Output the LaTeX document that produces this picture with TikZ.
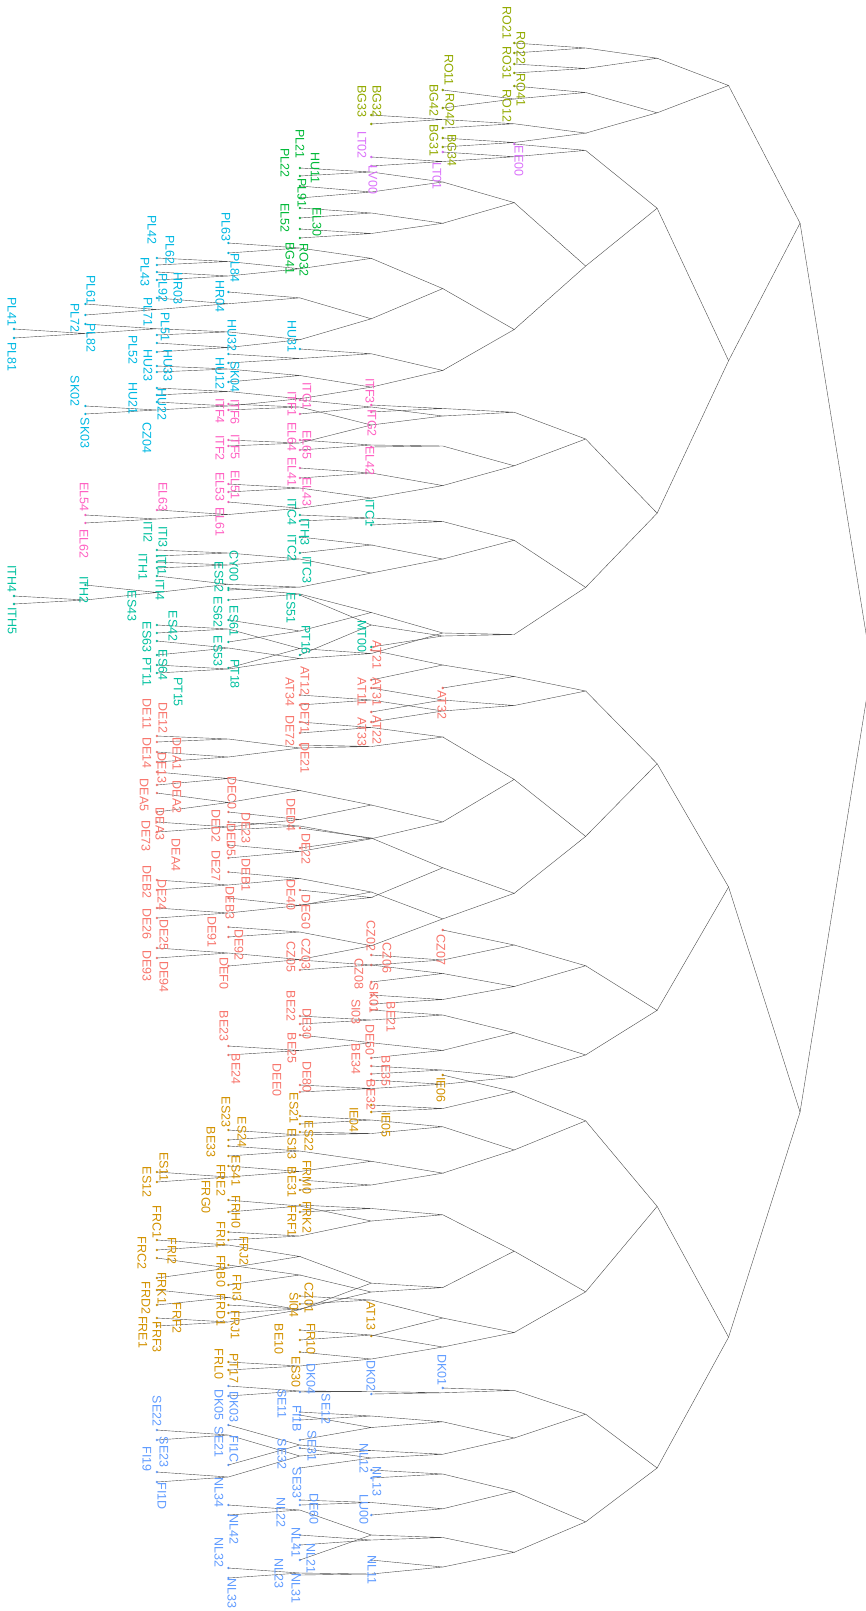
\documentclass[tikz,border=0pt]{standalone}
\usepackage{fontspec}
\setmainfont{Liberation Sans}
\definecolor{ol}{HTML}{93AA00}
\definecolor{vi}{HTML}{DB72FB}
\definecolor{gr}{HTML}{00BA38}
\definecolor{cy}{HTML}{00B9E3}
\definecolor{pk}{HTML}{FF61C3}
\definecolor{te}{HTML}{00C19F}
\definecolor{sa}{HTML}{F8766D}
\definecolor{go}{HTML}{D39200}
\definecolor{bl}{HTML}{619CFF}
\newcount\stkp
\newcount\nodeid
\def\stkset#1#2#3#4{%
  \expandafter\xdef\csname sd#1\endcsname{#2}%
  \expandafter\xdef\csname sy#1\endcsname{#3}%
  \expandafter\xdef\csname sn#1\endcsname{#4}}
\def\topd{\csname sd\the\stkp\endcsname}
\def\secd{\csname sd\the\numexpr\stkp-1\relax\endcsname}
\def\mergetop{%
  \edef\tia{\the\numexpr\stkp-1\relax}%
  \edef\tib{\the\stkp}%
  \edef\tka{\csname sn\tia\endcsname}%
  \edef\tkb{\csname sn\tib\endcsname}%
  \edef\tya{\csname sy\tia\endcsname}%
  \edef\tyb{\csname sy\tib\endcsname}%
  \edef\tdd{\the\numexpr\csname sd\tib\endcsname-1\relax}%
  \pgfmathsetmacro\tym{(\tya+\tyb)/2}%
  \global\advance\nodeid by 1
  \edef\tnn{n\the\nodeid}%
  \coordinate (\tnn) at ({871.5-71.46*\tdd},\tym);
  \draw[treeln] (\tka) -- (\tnn) -- (\tkb);
  \global\advance\stkp by -1
  \stkset{\the\stkp}{\tdd}{\tym}{\tnn}}
\def\promotetop{%
  \edef\tdd{\the\numexpr\topd-1\relax}%
  \edef\tyy{\csname sy\the\stkp\endcsname}%
  \edef\tnm{\csname sn\the\stkp\endcsname}%
  \stkset{\the\stkp}{\tdd}{\tyy}{\tnm}}
\def\cascade{%
  \let\mynext\relax
  \ifnum\stkp>1
    \ifnum\topd=\secd\relax \def\mynext{\mergetop\cascade}\fi
  \fi
  \mynext}
\def\reduceto#1{%
  \let\mynext\relax
  \ifnum\stkp>0
    \ifnum\topd>#1\relax \def\mynext{\promotetop\cascade\reduceto{#1}}\fi
  \fi
  \mynext}
\def\finish{%
  \let\mynext\relax
  \ifnum\stkp>1 \def\mynext{\promotetop\cascade\finish}\fi
  \mynext}
\def\lf#1#2#3{%
  \global\advance\nodeid by 1
  \edef\leafname{v\the\nodeid}%
  \coordinate (\leafname) at ({871.5-71.46*#1},#2);
  \fill[fill=#3] (\leafname) circle[radius=1.3pt];
  \reduceto{#1}%
  \global\advance\stkp by 1
  \stkset{\the\stkp}{#1}{#2}{\leafname}%
  \cascade}
\def\lbl#1#2#3#4{\node[lab,text=#4] (t#1) at (#2,#3) {#1};}
\begin{document}
\begin{tikzpicture}[x=1pt,y=-1pt,
  treeln/.style={draw=black!70,line width=0.4pt},
  lab/.style={rotate=-90,inner sep=0pt,font=\fontsize{12.5}{15}\selectfont}]
\fill[white] (0,0) rectangle (866,1611);
\useasboundingbox (0,0) rectangle (866,1611);
\clip (0,0) rectangle (866,1611);
% a
\lf{5}{43}{ol}\lf{5}{53}{ol}\lf{5}{64}{ol}\lf{5}{73}{ol}
% b
\lf{5}{86}{ol}\lf{6}{90}{ol}\lf{6}{108}{ol}\lf{7}{115}{ol}\lf{7}{124}{ol}\lf{6}{128}{ol}\lf{6}{138}{ol}\lf{6}{147}{ol}
% c1
\lf{5}{144}{vi}\lf{6}{152}{vi}\lf{7}{157}{vi}\lf{7}{166}{vi}
% c2a
\lf{8}{168}{gr}\lf{8}{176}{gr}\lf{8}{186}{gr}\lf{8}{198}{gr}\lf{8}{208}{gr}\lf{8}{218}{gr}\lf{8}{229}{gr}\lf{8}{238}{gr}
% c2b
\lf{9}{243}{cy}\lf{9}{253}{cy}\lf{10}{258}{cy}\lf{10}{265}{cy}\lf{10}{272}{cy}\lf{10}{280}{cy}\lf{9}{292}{cy}\lf{10}{298}{cy}
\lf{11}{304}{cy}\lf{11}{315}{cy}\lf{11}{324}{cy}\lf{12}{329}{cy}\lf{12}{338}{cy}\lf{10}{335}{cy}\lf{10}{343}{cy}\lf{10}{352}{cy}
\lf{8}{349}{cy}\lf{9}{354}{cy}\lf{9}{363}{cy}\lf{10}{366}{cy}\lf{10}{372}{cy}\lf{9}{382}{cy}\lf{10}{388}{cy}\lf{10}{395}{cy}
\lf{10}{402}{cy}\lf{11}{406}{cy}\lf{11}{414}{cy}
% d1a
\lf{7}{405}{pk}\lf{7}{412}{pk}\lf{8}{400}{pk}\lf{8}{414}{pk}\lf{9}{404}{pk}\lf{9}{410}{pk}\lf{9}{440}{pk}\lf{9}{446}{pk}
% d1b
\lf{7}{447}{pk}\lf{8}{440}{pk}\lf{8}{450}{pk}\lf{8}{468}{pk}\lf{8}{478}{pk}\lf{9}{484}{pk}\lf{9}{492}{pk}\lf{9}{502}{pk}
\lf{10}{510}{pk}\lf{11}{515}{pk}\lf{11}{523}{pk}
% d2a
\lf{7}{525}{te}\lf{8}{515}{te}\lf{8}{521}{te}\lf{8}{537}{te}\lf{8}{553}{te}\lf{10}{550}{te}\lf{10}{556}{te}\lf{10}{562}{te}
\lf{10}{568}{te}\lf{10}{576}{te}\lf{11}{585}{te}\lf{12}{596}{te}\lf{12}{604}{te}\lf{9}{590}{te}
% d2b
\lf{9}{588}{te}\lf{9}{600}{te}\lf{9}{620}{te}\lf{9}{642}{te}\lf{9}{668}{te}\lf{10}{625}{te}\lf{10}{633}{te}\lf{10}{641}{te}
\lf{10}{655}{te}\lf{10}{665}{te}\lf{10}{673}{te}\lf{7}{647}{te}\lf{8}{595}{te}\lf{8}{655}{te}
% e1
\lf{7}{650}{sa}\lf{7}{680}{sa}\lf{6}{688}{sa}\lf{7}{688}{sa}\lf{7}{712}{sa}\lf{7}{722}{sa}\lf{8}{695}{sa}\lf{8}{705}{sa}
% e2a
\lf{8}{722}{sa}\lf{8}{733}{sa}\lf{8}{745}{sa}\lf{10}{736}{sa}\lf{10}{742}{sa}\lf{10}{752}{sa}\lf{10}{762}{sa}\lf{10}{772}{sa}
\lf{10}{785}{sa}\lf{10}{793}{sa}\lf{10}{812}{sa}\lf{10}{822}{sa}\lf{10}{832}{sa}\lf{9}{812}{sa}\lf{9}{822}{sa}\lf{9}{830}{sa}
\lf{9}{845}{sa}\lf{9}{858}{sa}
% e2b
\lf{8}{828}{sa}\lf{8}{848}{sa}\lf{8}{890}{sa}\lf{8}{905}{sa}\lf{9}{872}{sa}\lf{10}{880}{sa}\lf{10}{890}{sa}\lf{9}{898}{sa}
\lf{10}{908}{sa}\lf{10}{918}{sa}\lf{9}{927}{sa}\lf{9}{937}{sa}\lf{10}{948}{sa}\lf{10}{958}{sa}\lf{9}{966}{sa}
% f1
\lf{6}{930}{sa}\lf{7}{955}{sa}\lf{7}{965}{sa}
\lf{8}{960}{sa}\lf{8}{970}{sa}\lf{7}{982}{sa}\lf{7}{995}{sa}\lf{7}{1004}{sa}
% f2
\lf{7}{1010}{sa}\lf{8}{1016}{sa}\lf{8}{1024}{sa}\lf{8}{1035}{sa}\lf{9}{1046}{sa}\lf{9}{1055}{sa}\lf{7}{1058}{sa}
\lf{7}{1066}{sa}\lf{7}{1074}{sa}\lf{7}{1080}{sa}\lf{8}{1085}{sa}\lf{8}{1092}{sa}
% g1
\lf{6}{1075}{go}\lf{7}{1105}{go}\lf{7}{1112}{go}
\lf{8}{1116}{go}\lf{8}{1124}{go}\lf{8}{1132}{go}\lf{9}{1130}{go}\lf{9}{1140}{go}\lf{9}{1146}{go}\lf{9}{1156}{go}
\lf{10}{1172}{go}\lf{10}{1182}{go}\lf{9}{1166}{go}\lf{8}{1180}{go}\lf{8}{1190}{go}
% g2a
\lf{8}{1205}{go}\lf{8}{1212}{go}\lf{9}{1200}{go}\lf{9}{1212}{go}\lf{9}{1232}{go}\lf{9}{1240}{go}\lf{9}{1265}{go}\lf{9}{1285}{go}
\lf{9}{1305}{go}\lf{9}{1313}{go}\lf{10}{1240}{go}\lf{10}{1250}{go}\lf{10}{1258}{go}\lf{10}{1278}{go}\lf{10}{1290}{go}
\lf{10}{1305}{go}\lf{10}{1318}{go}\lf{10}{1326}{go}
% g2b
\lf{8}{1296}{go}\lf{8}{1304}{go}\lf{7}{1336}{go}\lf{8}{1330}{go}\lf{8}{1340}{go}\lf{8}{1352}{go}\lf{9}{1362}{go}\lf{9}{1370}{go}
% h1
\lf{6}{1388}{bl}\lf{7}{1394}{bl}\lf{8}{1392}{bl}\lf{9}{1386}{bl}\lf{9}{1396}{bl}
\lf{8}{1412}{bl}\lf{8}{1420}{bl}\lf{8}{1415}{bl}\lf{8}{1440}{bl}\lf{8}{1448}{bl}\lf{8}{1468}{bl}\lf{9}{1425}{bl}\lf{9}{1465}{bl}
\lf{10}{1430}{bl}\lf{10}{1440}{bl}\lf{10}{1472}{bl}\lf{10}{1482}{bl}
% h2
\lf{7}{1470}{bl}\lf{7}{1478}{bl}\lf{8}{1500}{bl}\lf{8}{1505}{bl}\lf{7}{1515}{bl}
\lf{8}{1535}{bl}\lf{8}{1545}{bl}\lf{9}{1505}{bl}\lf{9}{1515}{bl}\lf{8}{1560}{bl}\lf{7}{1560}{bl}\lf{8}{1575}{bl}\lf{9}{1568}{bl}\lf{9}{1578}{bl}
\finish
% labels
\lbl{RO21}{507}{23}{ol}\lbl{RO22}{521}{48}{ol}\lbl{RO31}{507}{63}{ol}\lbl{RO41}{521}{90}{ol}\lbl{RO12}{507}{106}{ol}
\lbl{RO11}{449}{70}{ol}\lbl{RO42}{450}{110}{ol}\lbl{BG34}{452}{150}{ol}\lbl{BG42}{434}{100}{ol}\lbl{BG31}{434}{140}{ol}
\lbl{BG32}{377}{101}{ol}\lbl{BG33}{362}{101}{ol}
\lbl{LT01}{437}{176}{vi}\lbl{LT02}{362}{145}{vi}\lbl{LV00}{373}{180}{vi}\lbl{EE00}{519}{161}{vi}
\lbl{PL21}{300}{144}{gr}\lbl{HU11}{315}{168}{gr}\lbl{PL22}{285}{163}{gr}\lbl{PL91}{302}{193}{gr}\lbl{EL30}{317}{222}{gr}
\lbl{EL52}{285}{218}{gr}\lbl{RO32}{304}{260}{gr}\lbl{BG41}{290}{258}{gr}
\lbl{PL63}{226}{227}{cy}\lbl{PL84}{235}{268}{cy}\lbl{HR04}{220}{296}{cy}\lbl{PL42}{152}{230}{cy}\lbl{PL62}{170}{250}{cy}
\lbl{PL43}{145}{272}{cy}\lbl{PL92}{163}{288}{cy}\lbl{HR03}{178}{288}{cy}\lbl{PL61}{91}{290}{cy}\lbl{PL72}{75}{318}{cy}
\lbl{PL82}{91}{338}{cy}\lbl{PL41}{12}{312}{cy}\lbl{PL81}{12}{357}{cy}\lbl{PL71}{148}{312}{cy}\lbl{PL51}{165}{327}{cy}
\lbl{PL52}{133}{350}{cy}\lbl{HU23}{148}{365}{cy}\lbl{HU33}{168}{365}{cy}\lbl{HU21}{133}{398}{cy}\lbl{HU22}{162}{404}{cy}
\lbl{CZ04}{147}{438}{cy}\lbl{SK02}{75}{391}{cy}\lbl{SK03}{85}{433}{cy}\lbl{HU32}{232}{335}{cy}\lbl{HU31}{292}{336}{cy}
\lbl{HU12}{220}{373}{cy}\lbl{SK04}{235}{377}{cy}
\lbl{ITG1}{307}{396}{pk}\lbl{ITF1}{292}{404}{pk}\lbl{ITF3}{370}{391}{pk}\lbl{ITG2}{372}{423}{pk}\lbl{EL42}{370}{461}{pk}
\lbl{EL65}{307}{445}{pk}\lbl{EL64}{292}{437}{pk}\lbl{EL41}{292}{472}{pk}\lbl{EL43}{307}{492}{pk}\lbl{ITF6}{235}{412}{pk}
\lbl{ITF4}{220}{411}{pk}\lbl{ITF5}{235}{447}{pk}\lbl{ITF2}{220}{448}{pk}\lbl{EL51}{235}{485}{pk}\lbl{EL53}{220}{487}{pk}
\lbl{EL61}{220}{522}{pk}\lbl{EL63}{163}{497}{pk}\lbl{EL54}{84}{497}{pk}\lbl{EL62}{84}{544}{pk}
\lbl{ITC1}{370}{513}{te}\lbl{ITC4}{292}{512}{te}\lbl{ITH3}{305}{532}{te}\lbl{ITC2}{292}{548}{te}\lbl{ITC3}{307}{570}{te}
\lbl{ITI3}{163}{537}{te}\lbl{ITI2}{148}{532}{te}\lbl{ITI1}{162}{565}{te}\lbl{ITH1}{143}{567}{te}\lbl{ITI4}{160}{590}{te}
\lbl{CY00}{234}{566}{te}\lbl{ES52}{219}{577}{te}\lbl{ES62}{218}{612}{te}\lbl{ES61}{234}{621}{te}\lbl{ES53}{218}{651}{te}
\lbl{PT18}{235}{674}{te}\lbl{ES51}{291}{608}{te}\lbl{PT16}{306}{640}{te}\lbl{MT00}{362}{636}{te}\lbl{ITH2}{84}{590}{te}
\lbl{ES43}{132}{606}{te}\lbl{ITH4}{12}{579}{te}\lbl{ITH5}{12}{621}{te}\lbl{ES63}{147}{637}{te}\lbl{ES42}{173}{626}{te}
\lbl{PT11}{147}{672}{te}\lbl{ES64}{163}{665}{te}\lbl{PT15}{178}{692}{te}
\lbl{AT21}{377}{655}{sa}\lbl{AT31}{377}{692}{sa}\lbl{AT11}{362}{692}{sa}\lbl{AT22}{377}{730}{sa}\lbl{AT33}{362}{732}{sa}
\lbl{AT32}{442}{705}{sa}\lbl{AT12}{305}{681}{sa}\lbl{AT34}{290}{692}{sa}\lbl{DE71}{305}{718}{sa}\lbl{DE72}{290}{731}{sa}
\lbl{DE21}{305}{758}{sa}\lbl{DE11}{147}{714}{sa}\lbl{DE12}{163}{718}{sa}\lbl{DEA1}{177}{754}{sa}\lbl{DE13}{162}{768}{sa}
\lbl{DE14}{147}{753}{sa}\lbl{DEA5}{144}{795}{sa}\lbl{DEA2}{177}{797}{sa}\lbl{DEA3}{160}{824}{sa}\lbl{DE73}{146}{836}{sa}
\lbl{DEA4}{176}{855}{sa}\lbl{DEB2}{147}{882}{sa}\lbl{DE24}{162}{895}{sa}\lbl{DE26}{147}{924}{sa}\lbl{DE25}{164}{935}{sa}
\lbl{DE93}{147}{966}{sa}\lbl{DE94}{164}{977}{sa}\lbl{DEC0}{232}{793}{sa}\lbl{DE23}{246}{828}{sa}\lbl{DED2}{216}{826}{sa}
\lbl{DED5}{231}{840}{sa}\lbl{DE27}{216}{866}{sa}\lbl{DEB1}{246}{875}{sa}\lbl{DEB3}{230}{903}{sa}\lbl{DE91}{212}{932}{sa}
\lbl{DE92}{239}{945}{sa}\lbl{DEF0}{224}{973}{sa}\lbl{DED4}{291}{815}{sa}\lbl{DE22}{306}{849}{sa}\lbl{DE40}{291}{895}{sa}
\lbl{DEG0}{306}{912}{sa}\lbl{CZ03}{306}{954}{sa}\lbl{CZ05}{291}{957}{sa}\lbl{CZ02}{371}{936}{sa}\lbl{CZ06}{387}{958}{sa}
\lbl{CZ08}{359}{974}{sa}\lbl{SK01}{374}{998}{sa}\lbl{CZ07}{441}{950}{sa}\lbl{SI03}{356}{1012}{sa}\lbl{BE21}{391}{1017}{sa}
\lbl{BE22}{291}{1006}{sa}\lbl{DE30}{307}{1024}{sa}\lbl{BE25}{292}{1048}{sa}\lbl{BE23}{224}{1026}{sa}\lbl{BE24}{236}{1069}{sa}
\lbl{DE50}{370}{1040}{sa}\lbl{BE34}{356}{1059}{sa}\lbl{BE35}{386}{1071}{sa}\lbl{BE32}{371}{1095}{sa}\lbl{DE80}{307}{1077}{sa}
\lbl{DEE0}{277}{1080}{sa}
\lbl{IE06}{441}{1090}{go}\lbl{IE04}{354}{1120}{go}\lbl{IE05}{386}{1125}{go}\lbl{ES21}{294}{1108}{go}\lbl{ES22}{309}{1136}{go}
\lbl{ES13}{292}{1144}{go}\lbl{ES23}{226}{1112}{go}\lbl{ES24}{242}{1132}{go}\lbl{BE33}{211}{1142}{go}\lbl{ES11}{164}{1167}{go}
\lbl{ES12}{147}{1182}{go}\lbl{ES41}{236}{1171}{go}\lbl{FRE2}{221}{1180}{go}\lbl{FRG0}{206}{1197}{go}\lbl{FRH0}{236}{1212}{go}
\lbl{FRI1}{221}{1235}{go}\lbl{FRJ2}{244}{1251}{go}\lbl{FRB0}{221}{1271}{go}\lbl{FRI3}{237}{1288}{go}\lbl{FRD1}{221}{1310}{go}
\lbl{FRJ1}{235}{1325}{go}\lbl{FRM0}{307}{1177}{go}\lbl{BE31}{292}{1182}{go}\lbl{FRK2}{307}{1217}{go}\lbl{FRF1}{292}{1221}{go}
\lbl{FRC1}{157}{1222}{go}\lbl{FRI2}{172}{1251}{go}\lbl{FRC2}{142}{1253}{go}\lbl{FRK1}{162}{1288}{go}\lbl{FRD2}{146}{1298}{go}
\lbl{FRF2}{177}{1318}{go}\lbl{FRE1}{143}{1332}{go}\lbl{FRF3}{157}{1337}{go}\lbl{CZ01}{309}{1298}{go}\lbl{SI04}{294}{1305}{go}
\lbl{AT13}{371}{1316}{go}\lbl{BE10}{279}{1339}{go}\lbl{FR10}{311}{1339}{go}\lbl{ES30}{296}{1372}{go}\lbl{FRL0}{219}{1364}{go}
\lbl{PT17}{234}{1368}{go}
\lbl{DK04}{311}{1379}{bl}\lbl{DK02}{371}{1376}{bl}\lbl{DK01}{442}{1370}{bl}\lbl{SE11}{282}{1404}{bl}\lbl{FI1B}{297}{1419}{bl}
\lbl{SE12}{326}{1409}{bl}\lbl{SE31}{312}{1446}{bl}\lbl{SE32}{282}{1454}{bl}\lbl{SE33}{297}{1483}{bl}\lbl{DE60}{314}{1509}{bl}
\lbl{NL22}{281}{1512}{bl}\lbl{NL41}{296}{1542}{bl}\lbl{NL21}{311}{1558}{bl}\lbl{NL23}{279}{1573}{bl}\lbl{NL31}{296}{1588}{bl}
\lbl{NL12}{364}{1458}{bl}\lbl{NL13}{377}{1481}{bl}\lbl{LU00}{364}{1509}{bl}\lbl{NL11}{372}{1570}{bl}\lbl{DK05}{219}{1405}{bl}
\lbl{DK03}{234}{1407}{bl}\lbl{SE21}{219}{1442}{bl}\lbl{FI1C}{234}{1449}{bl}\lbl{SE22}{157}{1411}{bl}\lbl{SE23}{164}{1452}{bl}
\lbl{FI19}{147}{1459}{bl}\lbl{FI1D}{162}{1496}{bl}\lbl{NL34}{219}{1492}{bl}\lbl{NL42}{234}{1529}{bl}\lbl{NL32}{219}{1552}{bl}
\lbl{NL33}{232}{1593}{bl}
\end{tikzpicture}
\end{document}
